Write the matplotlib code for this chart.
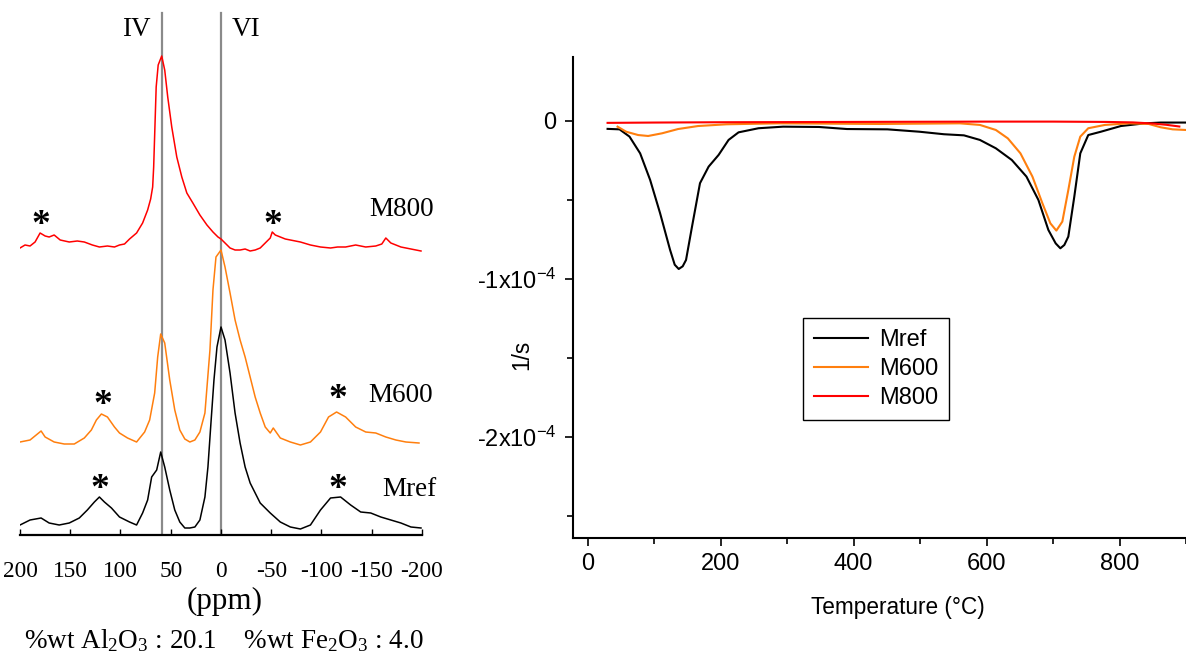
import matplotlib
matplotlib.use("Agg")
import matplotlib.pyplot as plt
from matplotlib.ticker import MultipleLocator, FixedLocator, FixedFormatter

plt.rcParams['mathtext.default'] = 'regular'
plt.rcParams['axes.unicode_minus'] = False

# --- 27Al NMR spectra (ppm, stacked intensity, arbitrary units) ---
ppm_800 = [200, 195, 190, 185, 180, 175, 171, 166, 160, 151, 143, 136, 128, 121, 113,
           106, 101, 96, 91, 84, 78, 73, 70, 68, 67, 66, 64.5, 62.5, 59, 56, 53, 49, 44,
           39, 34, 28, 21, 14, 8, 3, 0, -4, -9, -14, -19, -24, -29, -34, -39, -44, -49,
           -51, -54, -59, -64, -69, -79, -89, -99, -109, -116, -124, -134, -144, -154,
           -160, -164, -169, -179, -189, -199]
int_800 = [287, 290, 289, 293, 302, 299, 298, 300, 295, 293, 294, 293, 290, 288, 289,
           288, 290, 291, 296, 302, 312, 325, 336, 348, 368, 400, 448, 470, 479, 465, 438,
           408, 378, 358, 342, 332, 320, 310, 303, 298, 296, 292, 287, 285, 285, 286, 284,
           285, 287, 292, 297, 303, 300, 298, 296, 295, 293, 290, 288, 287, 288, 288, 290,
           288, 289, 291, 297, 292, 288, 286, 284]

ppm_600 = [200, 190, 179, 175, 166, 156, 146, 136, 129, 124, 119, 113, 106, 101, 93,
           84, 76, 71, 66, 63, 60, 56, 51, 46, 41, 36, 31, 26, 21, 16, 11, 8, 5, 0, -4,
           -9, -14, -19, -24, -29, -34, -39, -44, -49, -52, -59, -69, -79, -89, -99,
           -107, -115, -124, -134, -144, -154, -164, -174, -184, -197]
int_600 = [93, 95, 104, 98, 93, 91, 91, 97, 105, 115, 121, 118, 108, 102, 97,
           93, 103, 115, 142, 178, 201, 192, 155, 125, 105, 96, 93, 95, 103, 122,
           185, 245, 278, 285, 268, 242, 215, 195, 178, 158, 138, 122, 108, 102, 107,
           97, 93, 90, 93, 103, 118, 123, 118, 108, 103, 102, 98, 95, 93, 92]

ppm_ref = [200, 190, 179, 171, 161, 151, 141, 133, 126, 121, 116, 109, 101, 91, 84,
           78, 73, 69, 64, 60, 56, 51, 46, 41, 36, 31, 26, 21, 16, 13, 10, 7, 4, 0, -4,
           -9, -14, -19, -24, -29, -34, -39, -49, -59, -69, -79, -89, -99, -109, -119,
           -129, -139, -149, -159, -169, -179, -189, -199]
int_ref = [10, 15, 17, 12, 10, 12, 17, 25, 33, 38, 33, 27, 18, 13, 10,
           22, 35, 58, 65, 83, 68, 45, 25, 13, 7, 7, 8, 15, 38, 68,
           112, 155, 188, 208, 195, 162, 122, 92, 68, 52, 42, 32, 22, 13, 8,
           6, 10, 25, 37, 38, 30, 23, 22, 18, 15, 12, 8, 7]

# spinning sidebands (ppm, height)
star_800 = [(179, 310), (-52, 310)]
star_600 = [(118, 130), (-116, 135)]
star_ref = [(121, 45), (-116, 46)]

# --- DTG curves (temperature in C, rate in 1e-4 1/s) ---
T_ref = [30, 48, 63, 79, 94, 109, 124, 131, 137, 143, 148, 157, 169, 182, 197, 212,
         227, 257, 294, 348, 390, 451, 499, 536, 566, 590, 614, 638, 660, 678, 693,
         704, 711, 717, 723, 732, 741, 753, 772, 802, 838, 862, 900]
rate_ref = [-0.05, -0.053, -0.099, -0.205, -0.373, -0.584, -0.816, -0.91, -0.937, -0.92,
            -0.88, -0.669, -0.394, -0.289, -0.215, -0.12, -0.072, -0.046, -0.036, -0.038,
            -0.051, -0.053, -0.068, -0.084, -0.091, -0.12, -0.173, -0.247, -0.352, -0.5,
            -0.69, -0.775, -0.806, -0.785, -0.732, -0.479, -0.205, -0.089, -0.068, -0.032,
            -0.015, -0.01, -0.01]

T_600 = [45, 58, 76, 91, 112, 136, 166, 209, 287, 439, 560, 590, 614, 632, 651, 669,
         684, 696, 705, 714, 723, 732, 741, 753, 778, 814, 844, 862, 880, 900]
rate_600 = [-0.036, -0.068, -0.089, -0.095, -0.078, -0.051, -0.032, -0.021, -0.015,
            -0.019, -0.015, -0.025, -0.057, -0.11, -0.205, -0.352, -0.521, -0.648,
            -0.694, -0.637, -0.437, -0.226, -0.099, -0.046, -0.025, -0.015, -0.019,
            -0.04, -0.053, -0.057]

T_800 = [30, 100, 200, 300, 400, 500, 600, 700, 780, 820, 850, 870, 890]
rate_800 = [-0.012, -0.01, -0.008, -0.007, -0.006, -0.005, -0.004, -0.004, -0.006,
            -0.009, -0.016, -0.024, -0.035]

c_ref, c_600, c_800 = 'black', '#ff7f0e', '#ff0000'
serif = 'Liberation Serif'
sans = 'Liberation Sans'

fig = plt.figure(figsize=(11.86, 6.62), dpi=100)

# ================= left: NMR =================
ax1 = fig.add_axes([20 / 1186, 127 / 662, 402 / 1186, 525 / 662])
ax1.plot(ppm_800, int_800, color=c_800, lw=1.1)
ax1.plot(ppm_600, int_600, color=c_600, lw=1.1)
ax1.plot(ppm_ref, int_ref, color=c_ref, lw=1.1)
ax1.axvline(59, ymin=0, ymax=522 / 525, color='#8a8a8a', lw=1.6, zorder=0)
ax1.axvline(0, ymin=0, ymax=522 / 525, color='#8a8a8a', lw=1.6, zorder=0)
ax1.set_xlim(200, -200)
ax1.set_ylim(0, 525)
for s in ['top', 'right', 'left']:
    ax1.spines[s].set_visible(False)
ax1.spines['bottom'].set_linewidth(1.6)
ax1.set_yticks([])
ax1.set_xticks(range(200, -201, -50))
ax1.tick_params(axis='x', direction='in', length=4, width=1, pad=19,
                labelsize=16.8, labelfontfamily=serif)
ax1.set_xlabel('(ppm)', fontsize=22.4, family=serif)
ax1.xaxis.set_label_coords(0.51, -0.098)

ax1.text(84, 506, 'IV', fontsize=19.5, family=serif, ha='center', va='center')
ax1.text(-25, 506, 'VI', fontsize=19.5, family=serif, ha='center', va='center')
ax1.text(-212, 325, 'M800', fontsize=19.5, family=serif, ha='right', va='center')
ax1.text(-211, 140, 'M600', fontsize=19.5, family=serif, ha='right', va='center')
ax1.text(-214, 45, 'Mref', fontsize=19.5, family=serif, ha='right', va='center')
for px, h in star_800 + star_600 + star_ref:
    ax1.text(px, h, '*', fontsize=27, fontweight='bold', family=serif,
             ha='center', va='center')

fig.text(224 / 1186, 1 - 641 / 662,
         '%wt Al$_2$O$_3$ : 20.1    %wt Fe$_2$O$_3$ : 4.0',
         fontsize=19.5, family=serif, ha='center', va='center')

# ================= right: DTG =================
ax2 = fig.add_axes([573 / 1186, 124 / 662, 613 / 1186, 481 / 662])
ax2.plot(T_ref, [v * 1e-4 for v in rate_ref], color=c_ref, lw=1.5, label='Mref')
ax2.plot(T_600, [v * 1e-4 for v in rate_600], color=c_600, lw=1.5, label='M600')
ax2.plot(T_800, [v * 1e-4 for v in rate_800], color=c_800, lw=1.5, label='M800')
ax2.set_xlim(-22, 900)
ax2.set_ylim(-2.64e-4, 0.405e-4)
for s in ['top', 'right']:
    ax2.spines[s].set_visible(False)
for s in ['left', 'bottom']:
    ax2.spines[s].set_linewidth(1.5)

ax2.xaxis.set_major_locator(MultipleLocator(200))
ax2.xaxis.set_minor_locator(MultipleLocator(100))
ax2.yaxis.set_major_locator(FixedLocator([0, -1e-4, -2e-4]))
ax2.yaxis.set_major_formatter(FixedFormatter(['0', '-1x10$^{-4}$', '-2x10$^{-4}$']))
ax2.yaxis.set_minor_locator(FixedLocator([-0.5e-4, -1.5e-4, -2.5e-4]))
ax2.tick_params(which='major', direction='out', length=6, width=1.2,
                labelsize=17, labelfontfamily=sans)
ax2.tick_params(which='minor', direction='out', length=4, width=1.2)
ax2.tick_params(axis='x', pad=5)
ax2.tick_params(axis='y', pad=6)

ax2.set_xlabel('Temperature (°C)', fontsize=16.3, family=sans)
ax2.xaxis.set_label_coords(0.530, -0.12)
ax2.set_ylabel('1/s', fontsize=16.3, family=sans)
ax2.yaxis.set_label_coords(-0.065, 0.38)

leg = ax2.legend(loc='upper left', bbox_to_anchor=(0.375, 0.457), borderaxespad=0,
                 fancybox=False, edgecolor='black', framealpha=1,
                 prop={'family': sans, 'size': 17}, handlelength=2.3,
                 labelspacing=0.3, borderpad=0.45, handletextpad=0.5)
leg.get_frame().set_linewidth(1.0)

fig.savefig('out.png', dpi=100)
